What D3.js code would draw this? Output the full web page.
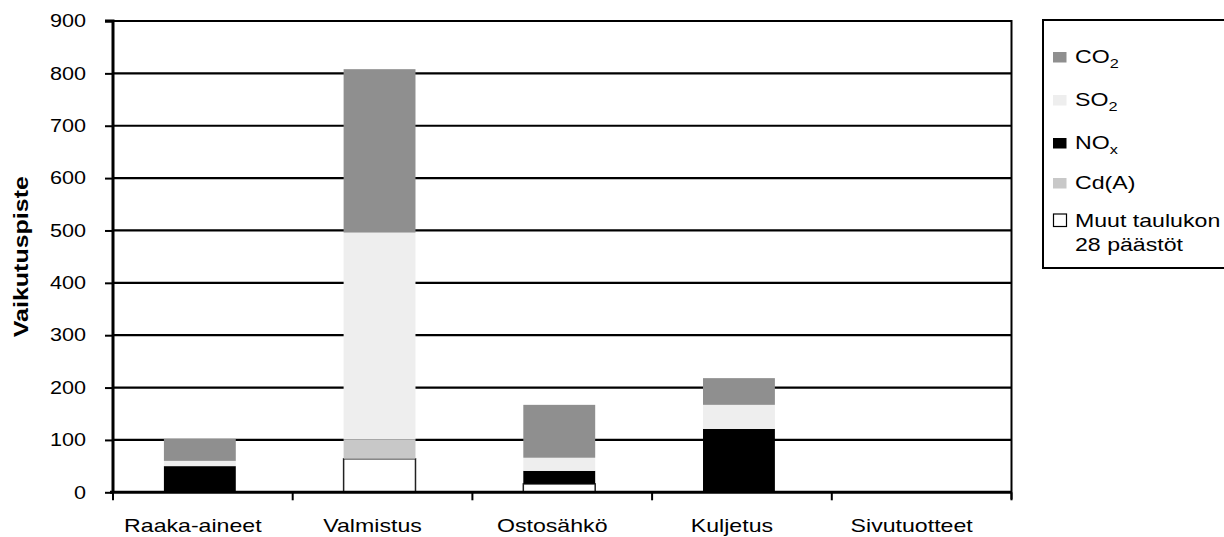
<!DOCTYPE html>
<html>
<head>
<meta charset="utf-8">
<script src="https://cdn.jsdelivr.net/npm/d3@7"></script>
<style>
  html, body { margin: 0; padding: 0; background: #fff; }
  svg { display: block; font-family: "Liberation Sans", Arial, sans-serif; }
</style>
</head>
<body>
<svg id="chart" width="1224" height="537"></svg>
<script>
// Impact categories along the x axis
const categories = ["Raaka-aineet", "Valmistus", "Ostosähkö", "Kuljetus", "Sivutuotteet"];

// Emission components, stacked from the bottom up
const muut = [0, 64, 16, 0, 0];
const cdA  = [0, 37, 0, 0, 0];
const nox  = [50, 0, 25, 121, 0];
const so2  = [10, 395, 25, 46, 0];
const co2  = [42, 312, 101, 51, 0];

const yTicks = [0, 100, 200, 300, 400, 500, 600, 700, 800, 900];

const seriesDefs = [
  { key: "muut", values: muut, fill: "#ffffff", stroke: "#222" },
  { key: "cd",   values: cdA,  fill: "#c8c8c8", stroke: "none" },
  { key: "nox",  values: nox,  fill: "#000000", stroke: "none" },
  { key: "so2",  values: so2,  fill: "#eeeeee", stroke: "none" },
  { key: "co2",  values: co2,  fill: "#8f8f8f", stroke: "none" }
];

const rows = categories.map((c, i) => {
  const r = { cat: c };
  seriesDefs.forEach(s => r[s.key] = s.values[i]);
  return r;
});

const stacked = d3.stack().keys(seriesDefs.map(s => s.key))(rows);

const svg = d3.select("#chart");
const plotLeft = 113, plotRight = 1011.5, plotTop = 21, plotBottom = 492.3;
const WIDE = 1.25;      // glyphs are drawn wide along their baseline
const barShift = -3;

const x = d3.scaleBand().domain(categories).range([plotLeft, plotRight]).paddingInner(0.6).paddingOuter(0.3);
const xb = d3.scaleBand().domain(categories).range([plotLeft, plotRight]);
const y = d3.scaleLinear().domain([0, 900]).range([plotBottom, plotTop]);

// Text helper: places a label at (px, py) stretched along its baseline
function wideText(parent, px, py, str, opts = {}) {
  const t = parent.append("text")
    .attr("transform", `translate(${px},${py})${opts.rotate ? ` rotate(${opts.rotate})` : ""} scale(${opts.sx || WIDE},1)`)
    .attr("font-size", opts.size || 18.5)
    .attr("text-anchor", opts.anchor || "start")
    .attr("fill", "#000");
  if (opts.weight) t.attr("font-weight", opts.weight);
  if (str !== null) t.text(str);
  return t;
}

// Horizontal gridlines
svg.append("g").selectAll("line").data(yTicks.filter(t => t > 0)).join("line")
  .attr("x1", plotLeft).attr("x2", plotRight)
  .attr("y1", d => y(d)).attr("y2", d => y(d))
  .attr("stroke", "#000").attr("stroke-width", 2.2);

// Right border of plot area
svg.append("line").attr("x1", plotRight).attr("x2", plotRight).attr("y1", plotTop - 1).attr("y2", plotBottom + 7)
  .attr("stroke", "#000").attr("stroke-width", 2);

// Stacked bars
stacked.forEach((layer, li) => {
  const def = seriesDefs[li];
  svg.append("g").selectAll("rect").data(layer.filter(d => d[1] - d[0] > 0)).join("rect")
    .attr("x", d => x(d.data.cat) + barShift)
    .attr("width", x.bandwidth())
    .attr("y", d => y(d[1]))
    .attr("height", d => y(d[0]) - y(d[1]))
    .attr("fill", def.fill)
    .attr("stroke", def.stroke)
    .attr("stroke-width", def.stroke === "none" ? 0 : 1.5);
});

// Y axis
const yAxis = d3.axisLeft(y).tickValues(yTicks).tickSize(8).tickPadding(27);
const gy = svg.append("g").attr("transform", `translate(${plotLeft},0)`).call(yAxis);
gy.select(".domain").attr("stroke-width", 3).attr("d", `M-8,${plotTop}H0V${plotBottom}`);
gy.selectAll(".tick line").attr("stroke-width", 2);
gy.selectAll(".tick text")
  .attr("font-size", 18).attr("fill", "#000")
  .attr("font-family", "Liberation Sans, Arial, sans-serif")
  .attr("x", -27 / 1.2)
  .attr("transform", "scale(1.2,1)");

// X axis with ticks at category boundaries
const gx = svg.append("g").attr("transform", `translate(0,${plotBottom})`);
gx.append("line").attr("x1", plotLeft - 3).attr("x2", plotRight).attr("stroke", "#000").attr("stroke-width", 3);
const bounds = categories.map(c => xb(c)).concat([plotRight]);
gx.selectAll("line.tk").data(bounds).join("line").attr("class", "tk")
  .attr("x1", d => d).attr("x2", d => d).attr("y1", 0).attr("y2", 8)
  .attr("stroke", "#000").attr("stroke-width", 2);
categories.forEach(c => {
  wideText(gx, xb(c) + xb.bandwidth() / 2 - 10, 39.5, c, { anchor: "middle" });
});

// Y axis title
wideText(svg, 28, (plotTop + plotBottom) / 2, "Vaikutuspiste",
  { rotate: -90, anchor: "middle", size: 20, weight: "bold" });

// Legend
const lg = svg.append("g");
lg.append("rect").attr("x", 1043).attr("y", 20).attr("width", 200).attr("height", 248)
  .attr("fill", "#fff").attr("stroke", "#000").attr("stroke-width", 2);

const legendItems = [
  { def: seriesDefs[4], base: 63, label: ["CO", "2"] },
  { def: seriesDefs[3], base: 106, label: ["SO", "2"] },
  { def: seriesDefs[2], base: 149, label: ["NO", "x"] },
  { def: seriesDefs[1], base: 189, label: ["Cd(A)", null] }
];
legendItems.forEach(it => {
  lg.append("rect").attr("x", 1053).attr("y", it.base - 11).attr("width", 13.5).attr("height", 10.5)
    .attr("fill", it.def.fill);
  const t = wideText(lg, 1075, it.base, null);
  t.append("tspan").text(it.label[0]);
  if (it.label[1]) {
    t.append("tspan").attr("dy", 5).attr("font-size", 13).text(it.label[1]);
  }
});
lg.append("rect").attr("x", 1053.5).attr("y", 214).attr("width", 13).attr("height", 12.5)
  .attr("fill", "#fff").attr("stroke", "#000").attr("stroke-width", 1.2);
wideText(lg, 1075, 227, "Muut taulukon");
wideText(lg, 1075, 251, "28 päästöt");
</script>
</body>
</html>
